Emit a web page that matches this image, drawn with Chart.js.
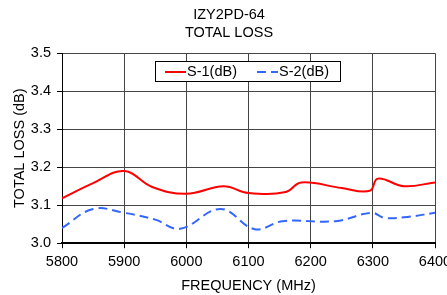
<!DOCTYPE html>
<html>
<head>
<meta charset="utf-8">
<script src="https://cdn.jsdelivr.net/npm/chart.js@4.4.1/dist/chart.umd.min.js"></script>
<style>
  html, body { margin: 0; padding: 0; background: #fff; }
  #wrap { width: 447px; height: 295px; }
</style>
</head>
<body>
<div id="wrap"><canvas id="myChart" width="447" height="295"></canvas></div>
<script>
// S-1 (red, solid)
const s1Freq = [5800, 5850, 5900, 5945, 6000, 6060, 6100, 6160, 6185, 6250, 6295, 6308, 6350, 6400];
const s1Loss = [3.118, 3.158, 3.190, 3.148, 3.130, 3.150, 3.132, 3.135, 3.160, 3.145, 3.138, 3.170, 3.150, 3.160];

// S-2 (blue, dashed)
const s2Freq = [5800, 5850, 5900, 5950, 5990, 6055, 6110, 6155, 6240, 6298, 6318, 6350, 6400];
const s2Loss = [3.040, 3.090, 3.080, 3.062, 3.038, 3.090, 3.037, 3.058, 3.058, 3.080, 3.067, 3.068, 3.080];

const seriesLabels = ["S-1(dB)", "S-2(dB)"];
const titleLines = ["IZY2PD-64", "TOTAL LOSS"];

const FONT = "'Liberation Sans', Arial, sans-serif";
const FS = 14.5;

function toPoints(xs, ys) {
  return xs.map((x, i) => ({ x: x, y: ys[i] }));
}

// legend drawn as a box inside the plot area
const boxLegend = {
  id: "boxLegend",
  afterDraw(chart) {
    const ctx = chart.ctx;
    const a = chart.chartArea;
    const x0 = Math.round(a.left + 93), y0 = Math.round(a.top + 8), w = 185, h = 20;
    ctx.save();
    ctx.fillStyle = "#fff";
    ctx.fillRect(x0, y0, w, h);
    ctx.strokeStyle = "#000";
    ctx.lineWidth = 1;
    ctx.strokeRect(x0 + 0.5, y0 + 0.5, w, h);
    ctx.font = FS + "px " + FONT;
    ctx.textBaseline = "middle";
    ctx.fillStyle = "#000";
    const cy = y0 + h / 2 + 1;
    const items = chart.data.datasets;
    const offs = [10, 102];
    items.forEach((ds, i) => {
      const lx = x0 + offs[i];
      ctx.strokeStyle = ds.borderColor;
      ctx.lineWidth = 2;
      ctx.setLineDash(ds.borderDash || []);
      ctx.beginPath();
      ctx.moveTo(lx, cy);
      ctx.lineTo(lx + 21, cy);
      ctx.stroke();
      ctx.setLineDash([]);
      ctx.fillText(ds.label, lx + 22, cy);
    });
    ctx.restore();
  }
};

const cfg = {
  type: "line",
  data: {
    datasets: [
      {
        label: seriesLabels[0],
        data: toPoints(s1Freq, s1Loss),
        borderColor: "#ff0000",
        borderWidth: 2,
        pointRadius: 0,
        tension: 0.4,
        fill: false,
      },
      {
        label: seriesLabels[1],
        data: toPoints(s2Freq, s2Loss),
        borderColor: "#3366ff",
        borderWidth: 2,
        borderDash: [9, 5],
        pointRadius: 0,
        tension: 0.4,
        fill: false,
      },
    ],
  },
  options: {
    responsive: false,
    animation: false,
    layout: { padding: { left: 11, right: 0, top: 0, bottom: 0 } },
    plugins: {
      legend: { display: false },
      tooltip: { enabled: false },
      title: {
        display: true,
        text: titleLines,
        color: "#000",
        font: { family: FONT, size: FS, weight: "normal", lineHeight: 1.25 },
        padding: { top: 6, bottom: 11 },
      },
    },
    scales: {
      x: {
        type: "linear",
        min: 5800,
        max: 6400,
        // the last label runs past the canvas edge, like the original
        afterFit: (scale) => { scale.paddingRight = 12; },
        ticks: {
          stepSize: 100,
          color: "#000",
          font: { family: FONT, size: FS },
          padding: 5,
          callback: (v) => String(v),
        },
        grid: { color: "#444", tickLength: 5, tickColor: "#000" },
        border: { color: "#000", width: 2 },
        title: {
          display: true,
          text: "FREQUENCY (MHz)",
          color: "#000",
          font: { family: FONT, size: FS },
          padding: { top: 2, bottom: 0 },
        },
      },
      y: {
        min: 3.0,
        max: 3.5,
        afterFit: (scale) => { scale.width = 51; },
        ticks: {
          stepSize: 0.1,
          color: "#000",
          font: { family: FONT, size: FS },
          padding: 6,
          callback: (v) => v.toFixed(1),
        },
        grid: { color: "#444", tickLength: 5, tickColor: "#000" },
        border: { color: "#000", width: 1 },
        title: {
          display: true,
          text: "TOTAL LOSS (dB)",
          color: "#000",
          font: { family: FONT, size: FS },
          padding: { top: 0, bottom: 0 },
        },
      },
    },
  },
  plugins: [boxLegend],
};

new Chart(document.getElementById("myChart"), cfg);
</script>
</body>
</html>
